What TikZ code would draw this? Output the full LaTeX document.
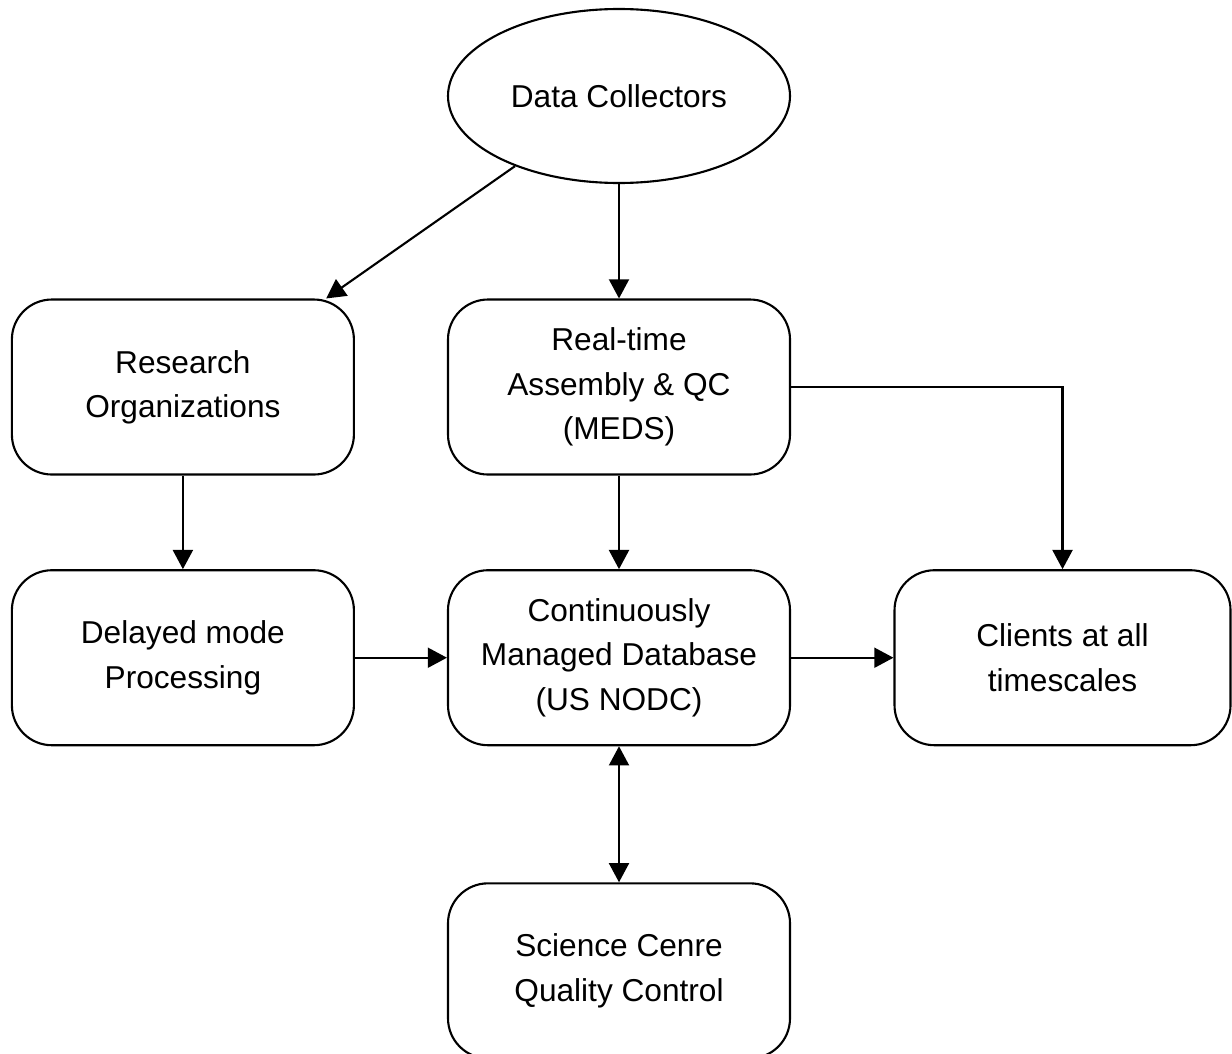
\documentclass[tikz,border=0pt]{standalone}
\usepackage{fontspec}
\setmainfont{Liberation Sans}
\usetikzlibrary{
    arrows.meta,
    positioning,
    shapes.geometric
}

\begin{document}
\begin{tikzpicture}[
    box/.style={rectangle, draw, line width=1.5pt, rounded corners=1cm, minimum width=8.55cm, minimum height=4.375cm, align=center, inner sep=0pt, font=\fontsize{22.5}{31.5}\selectfont},
    oval/.style={ellipse, draw, line width=1.5pt, minimum width=8.55cm, minimum height=4.35cm, inner sep=0pt, font=\fontsize{22.5}{31.5}\selectfont},
    arrow/.style={-{Triangle[length=0.48cm, width=0.5cm]}, line width=1.5pt},
    twoway/.style={{Triangle[length=0.48cm, width=0.5cm]}-{Triangle[length=0.48cm, width=0.5cm]}, line width=1.5pt}
]
\useasboundingbox (0,0) rectangle (30.8,-26.325);

% Source
\node[oval] (dc) at (15.475,-2.4) {Data Collectors};

% Second row
\node[box, below=2.86cm of dc] (rt) {Real-time\\Assembly \& QC\\(MEDS)};
\node[box, left=2.3cm of rt] (ro) {Research\\Organizations};

% Third row
\node[box, below=2.34cm of rt] (cmd) {Continuously\\Managed Database\\(US NODC)};
\node[box, left=2.3cm of cmd] (dm) {Delayed mode\\Processing};
\node[box, right=2.56cm of cmd, minimum width=8.4cm] (cl) {Clients at all\\timescales};

% Bottom
\node[box, below=3.4cm of cmd] (sc) {Science Cenre\\Quality Control};

\draw[arrow] (dc.-146) -- ([xshift=-0.72cm]ro.north east);
\draw[arrow] (dc) -- (rt);
\draw[arrow] (rt.east) -| (cl.north);
\draw[arrow] (ro) -- (dm);
\draw[arrow] (rt) -- (cmd);
\draw[arrow] (dm) -- (cmd);
\draw[arrow] (cmd) -- (cl);
\draw[twoway] (cmd) -- (sc);

\end{tikzpicture}
\end{document}
